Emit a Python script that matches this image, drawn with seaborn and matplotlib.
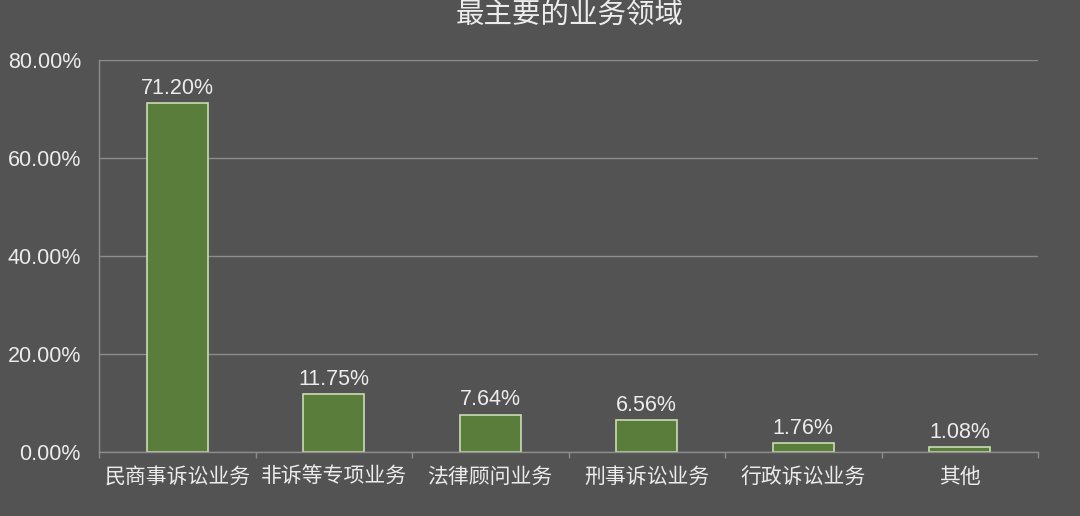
import matplotlib
matplotlib.use("Agg")
import matplotlib.pyplot as plt
import seaborn as sns
import pandas as pd
import numpy as np

categories = ["民商事诉讼业务", "非诉等专项业务", "法律顾问业务", "刑事诉讼业务", "行政诉讼业务", "其他"]
values = [71.20, 11.75, 7.64, 6.56, 1.76, 1.08]
yticks = [0, 20, 40, 60, 80]
title = "最主要的业务领域"

sns.set_theme(style="dark")
plt.rcParams['font.family'] = ['Noto Sans CJK SC', 'DejaVu Sans']
numfont = ['Liberation Sans', 'DejaVu Sans']

bg = "#535353"
txt = "#ececec"
grid = "#8c8c8c"

fig = plt.figure(figsize=(10.8, 5.16), dpi=100, facecolor=bg)
ax = fig.add_axes([99/1080, 1-452/516, (1038-99)/1080, (452-60)/516])
ax.set_facecolor(bg)

df = pd.DataFrame({"cat": categories, "val": values})
sns.barplot(data=df, x="cat", y="val", ax=ax, color="#5b7d3b", width=0.39,
            edgecolor="#c9ddb3", linewidth=1.2, saturation=1)

ax.set_xlim(-0.5, len(categories) - 0.5)
ax.set_ylim(0, 80)
ax.set_yticks(yticks)
ax.set_yticklabels([f"{v:.2f}%" for v in yticks], family=numfont)
ax.yaxis.grid(True, color=grid, linewidth=1)
ax.xaxis.grid(False)
ax.set_axisbelow(True)
ax.set_xlabel("")
ax.set_ylabel("")

for s in ["top", "right"]:
    ax.spines[s].set_visible(False)
for s in ["left", "bottom"]:
    ax.spines[s].set_visible(True)
    ax.spines[s].set_color(grid)
    ax.spines[s].set_linewidth(1)

ax.set_xticks(np.arange(-0.5, len(categories)), minor=True)
ax.tick_params(axis="x", which="minor", length=4, color=grid, width=1, direction="out", bottom=True)
ax.tick_params(axis="x", which="major", length=0, labelsize=15, labelcolor=txt, pad=10)
ax.tick_params(axis="y", which="major", length=0, labelsize=15.5, labelcolor=txt, pad=13)

for i, v in enumerate(values):
    ax.annotate(f"{v:.2f}%", (i, v), xytext=(0, 3), textcoords="offset points",
                ha="center", va="bottom", fontsize=15.5, color=txt, family=numfont)

fig.text(570/1080, 1-15/516, title, ha="center", va="center", fontsize=20.5, color=txt)

fig.savefig("out.png", dpi=100, facecolor=bg)
